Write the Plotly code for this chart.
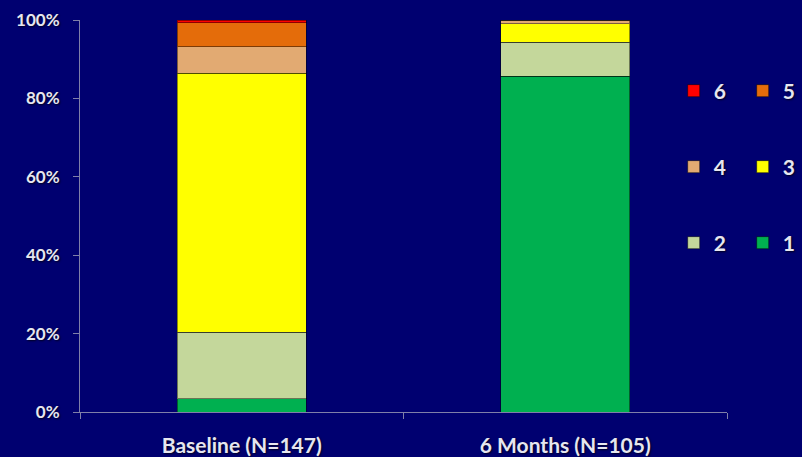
import plotly.graph_objects as go

categories = ["Baseline (N=147)", "6 Months (N=105)"]
levels = ["1", "2", "3", "4", "5", "6"]
baseline = [3.4, 17.0, 66.0, 6.8, 6.1, 0.7]
six_months = [85.7, 8.6, 4.8, 0.9, 0.0, 0.0]
colors = ["#00B050", "#C4D79B", "#FFFF00", "#E2AA72", "#E46C0A", "#FF0000"]
tick_vals = [0, 20, 40, 60, 80, 100]
tick_text = ["0%", "20%", "40%", "60%", "80%", "100%"]

BG = "#000070"
TXT = "#E6E6F0"
shadow = "1px 1px 2px #000020"
FONT = "Lato, Open Sans, sans-serif"

# legend grouping: rows (6,5), (4,3), (2,1)
legend_of = {"6": "legend", "5": "legend", "4": "legend2", "3": "legend2", "2": "legend3", "1": "legend3"}

fig = go.Figure()
for i, lv in enumerate(levels):
    fig.add_trace(go.Bar(
        x=categories,
        y=[baseline[i], six_months[i]],
        name=lv,
        marker=dict(color=colors[i], line=dict(color="rgba(0,0,0,0.45)", width=1)),
        legend=legend_of[lv],
        hoverinfo="skip",
    ))

leg_common = dict(
    orientation="h",
    xanchor="left",
    yanchor="middle",
    x=0.9176,
    font=dict(family=FONT, size=21, color=TXT, weight="bold", shadow=shadow),
    bgcolor="rgba(0,0,0,0)",
    entrywidth=24,
    entrywidthmode="pixels",
    traceorder="reversed",
    itemwidth=30,
)
fig.update_layout(
    barmode="stack",
    bargap=0.6,
    width=802,
    height=457,
    paper_bgcolor=BG,
    plot_bgcolor=BG,
    margin=dict(l=80, r=75, t=20, b=45, autoexpand=False),
    legend=dict(leg_common, y=(412 - 91) / 392),
    legend2=dict(leg_common, y=(412 - 167) / 392),
    legend3=dict(leg_common, y=(412 - 243) / 392),
    xaxis=dict(
        showline=True, linecolor="#7F7FA8", linewidth=1,
        ticks="outside", tickson="boundaries", ticklen=6, tickcolor="#7F7FA8",
        tickfont=dict(family=FONT, size=21, color=TXT, weight="bold", shadow=shadow),
        ticklabelstandoff=15,
        showgrid=False,
    ),
    yaxis=dict(
        range=[0, 100],
        tickvals=tick_vals, ticktext=tick_text,
        showline=True, linecolor="#7F7FA8", linewidth=1,
        ticks="outside", ticklen=6, tickcolor="#7F7FA8",
        tickfont=dict(family=FONT, size=17, color=TXT, weight="bold", shadow=shadow),
        ticklabelstandoff=10,
        showgrid=False, zeroline=False,
    ),
)
fig.write_html("out.html")
